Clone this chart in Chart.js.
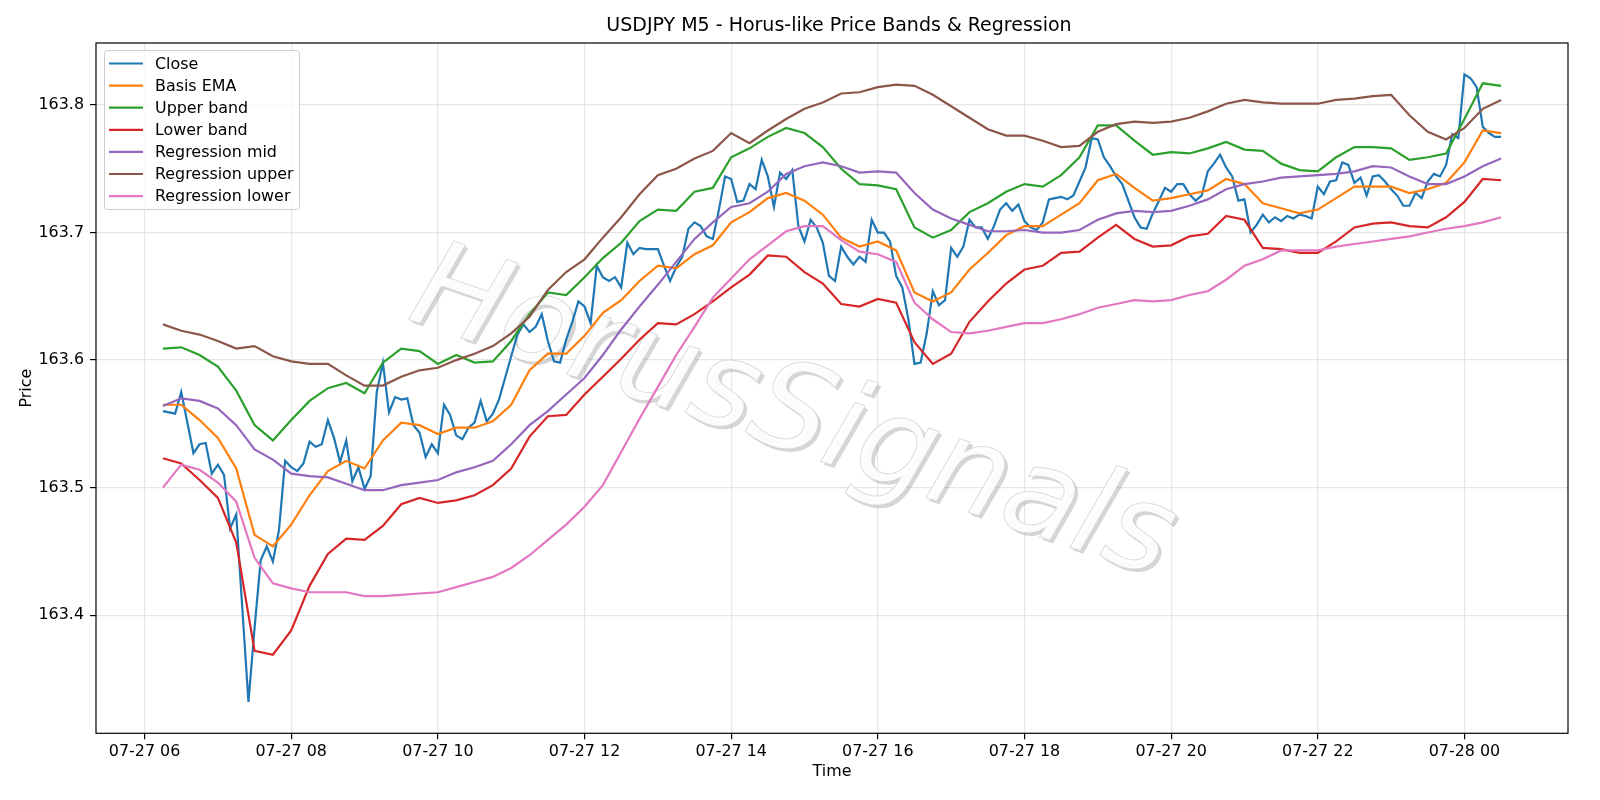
<!DOCTYPE html>
<html>
<head>
<meta charset="utf-8">
<script src="https://cdn.jsdelivr.net/npm/chart.js@4.4.1/dist/chart.umd.min.js"></script>
<style>
  html, body { margin: 0; padding: 0; background: #fff; }
  #wrap { width: 1600px; height: 800px; }
</style>
</head>
<body>
<div id="wrap"><canvas id="priceChart"></canvas></div>
<script>
// time axis is minutes since 07-27 00:00; first bar is 06:15
const startMinute = 375;
const closeStep = 5;   // M5 closes
const bandStep = 15;   // band lines read every third bar

const closePrices = [
  163.560, 163.559, 163.558, 163.575, 163.551, 163.527, 163.534, 163.535, 163.511, 163.518,
  163.510, 163.468, 163.479, 163.405, 163.332, 163.390, 163.443, 163.454, 163.442, 163.467,
  163.521, 163.516, 163.513, 163.519, 163.536, 163.532, 163.534, 163.553, 163.539, 163.520,
  163.537, 163.505, 163.516, 163.499, 163.509, 163.575, 163.598, 163.559, 163.571, 163.569,
  163.570, 163.549, 163.543, 163.524, 163.534, 163.527, 163.565, 163.557, 163.541, 163.538,
  163.547, 163.551, 163.568, 163.552, 163.558, 163.569, 163.586, 163.603, 163.620, 163.628,
  163.622, 163.626, 163.636, 163.615, 163.599, 163.598, 163.616, 163.630, 163.646, 163.642,
  163.629, 163.674, 163.665, 163.662, 163.665, 163.657, 163.692, 163.683, 163.688, 163.687,
  163.687, 163.687, 163.674, 163.662, 163.673, 163.681, 163.703, 163.708, 163.705, 163.697,
  163.695, 163.718, 163.744, 163.742, 163.724, 163.725, 163.738, 163.734, 163.757, 163.744,
  163.720, 163.747, 163.742, 163.749, 163.705, 163.693, 163.710, 163.704, 163.692, 163.666,
  163.662, 163.689, 163.681, 163.675, 163.681, 163.677, 163.710, 163.700, 163.700, 163.693,
  163.666, 163.657, 163.632, 163.597, 163.598, 163.621, 163.654, 163.643, 163.647, 163.688,
  163.681, 163.689, 163.710, 163.704, 163.704, 163.695, 163.705, 163.718, 163.723, 163.717,
  163.722, 163.709, 163.704, 163.702, 163.708, 163.726, 163.727, 163.728, 163.726, 163.729,
  163.740, 163.751, 163.774, 163.773, 163.759, 163.752, 163.744, 163.738, 163.725, 163.712,
  163.704, 163.703, 163.715, 163.725, 163.735, 163.732, 163.738, 163.738, 163.730, 163.725,
  163.729, 163.748, 163.754, 163.761, 163.751, 163.744, 163.725, 163.726, 163.700, 163.706,
  163.714, 163.708, 163.712, 163.709, 163.713, 163.711, 163.714, 163.713, 163.711, 163.736,
  163.730, 163.740, 163.741, 163.755, 163.753, 163.739, 163.743, 163.729, 163.744, 163.745,
  163.740, 163.734, 163.729, 163.721, 163.721, 163.731, 163.727, 163.740, 163.746, 163.744,
  163.753, 163.777, 163.774, 163.824, 163.821, 163.814, 163.783, 163.778, 163.775, 163.775,
];

const basisEma = [
  163.565, 163.565, 163.553, 163.539, 163.515, 163.463, 163.454, 163.471, 163.494, 163.513,
  163.521, 163.515, 163.537, 163.551, 163.549, 163.542, 163.547, 163.547, 163.552, 163.565,
  163.592, 163.605, 163.605, 163.619, 163.637, 163.647, 163.662, 163.674, 163.672, 163.683,
  163.690, 163.708, 163.716, 163.727, 163.731, 163.725, 163.714, 163.696, 163.689, 163.693,
  163.686, 163.653, 163.646, 163.653, 163.671, 163.684, 163.698, 163.705, 163.705, 163.714,
  163.723, 163.741, 163.746, 163.735, 163.725, 163.727, 163.730, 163.733, 163.742, 163.738,
  163.723, 163.719, 163.715, 163.718, 163.727, 163.736, 163.736, 163.736, 163.731, 163.734,
  163.739, 163.755, 163.780, 163.778,
];

const upperBand = [
  163.609, 163.610, 163.604, 163.595, 163.576, 163.549, 163.537, 163.553, 163.568, 163.578,
  163.582, 163.574, 163.598, 163.609, 163.607, 163.597, 163.604, 163.598, 163.599, 163.615,
  163.636, 163.653, 163.651, 163.665, 163.680, 163.692, 163.709, 163.718, 163.717, 163.732,
  163.735, 163.759, 163.766, 163.775, 163.782, 163.778, 163.767, 163.750, 163.738, 163.737,
  163.734, 163.704, 163.696, 163.702, 163.716, 163.723, 163.732, 163.738, 163.736, 163.745,
  163.759, 163.784, 163.784, 163.772, 163.761, 163.763, 163.762, 163.766, 163.771, 163.765,
  163.764, 163.754, 163.749, 163.748, 163.759, 163.767, 163.767, 163.766, 163.757, 163.759,
  163.762, 163.789, 163.817, 163.815,
];

const lowerBand = [
  163.523, 163.519, 163.506, 163.492, 163.457, 163.372, 163.369, 163.388, 163.423, 163.448,
  163.460, 163.459, 163.470, 163.487, 163.492, 163.488, 163.490, 163.494, 163.502, 163.515,
  163.540, 163.556, 163.557, 163.573, 163.587, 163.601, 163.616, 163.629, 163.628, 163.636,
  163.646, 163.657, 163.667, 163.682, 163.681, 163.669, 163.660, 163.644, 163.642, 163.648,
  163.645, 163.614, 163.597, 163.605, 163.630, 163.646, 163.660, 163.671, 163.674, 163.684,
  163.685, 163.696, 163.706, 163.695, 163.689, 163.690, 163.697, 163.699, 163.713, 163.710,
  163.688, 163.687, 163.684, 163.684, 163.693, 163.704, 163.707, 163.708, 163.705, 163.704,
  163.712, 163.724, 163.742, 163.741,
];

const regressionMid = [
  163.564, 163.570, 163.568, 163.562, 163.549, 163.530, 163.522, 163.511, 163.509, 163.508,
  163.503, 163.498, 163.498, 163.502, 163.504, 163.506, 163.512, 163.516, 163.521, 163.534,
  163.549, 163.560, 163.573, 163.586, 163.604, 163.624, 163.642, 163.659, 163.677, 163.695,
  163.708, 163.720, 163.723, 163.732, 163.746, 163.752, 163.755, 163.752, 163.747, 163.748,
  163.747, 163.731, 163.718, 163.711, 163.706, 163.701, 163.701, 163.702, 163.700, 163.700,
  163.702, 163.710, 163.715, 163.717, 163.716, 163.717, 163.721, 163.726, 163.734, 163.738,
  163.740, 163.743, 163.744, 163.745, 163.746, 163.748, 163.752, 163.751, 163.744, 163.738,
  163.738, 163.744, 163.752, 163.758,
];

const regressionUpper = [
  163.628, 163.623, 163.620, 163.615, 163.609, 163.611, 163.603, 163.599, 163.597, 163.597,
  163.588, 163.580, 163.580, 163.587, 163.592, 163.594, 163.600, 163.605, 163.611, 163.621,
  163.634, 163.655, 163.669, 163.679, 163.696, 163.712, 163.730, 163.745, 163.750, 163.758,
  163.764, 163.778, 163.770, 163.780, 163.789, 163.797, 163.802, 163.809, 163.810, 163.814,
  163.816, 163.815, 163.808, 163.799, 163.790, 163.781, 163.776, 163.776, 163.772, 163.767,
  163.768, 163.779, 163.785, 163.787, 163.786, 163.787, 163.790, 163.795, 163.801, 163.804,
  163.802, 163.801, 163.801, 163.801, 163.804, 163.805, 163.807, 163.808, 163.792, 163.779,
  163.773, 163.782, 163.797, 163.804,
];

const regressionLower = [
  163.500, 163.518, 163.514, 163.504, 163.489, 163.445, 163.425, 163.421, 163.418, 163.418,
  163.418, 163.415, 163.415, 163.416, 163.417, 163.418, 163.422, 163.426, 163.430, 163.437,
  163.447, 163.459, 163.471, 163.485, 163.502, 163.528, 163.554, 163.579, 163.604, 163.626,
  163.649, 163.664, 163.679, 163.690, 163.701, 163.705, 163.705, 163.694, 163.685, 163.683,
  163.677, 163.645, 163.632, 163.622, 163.621, 163.623, 163.626, 163.629, 163.629, 163.632,
  163.636, 163.641, 163.644, 163.647, 163.646, 163.647, 163.651, 163.654, 163.663, 163.674,
  163.679, 163.686, 163.686, 163.686, 163.689, 163.691, 163.693, 163.695, 163.697, 163.700,
  163.703, 163.705, 163.708, 163.712,
];

const xTickMinutes = [360, 480, 600, 720, 840, 960, 1080, 1200, 1320, 1440];
const xTickLabels = [
  "07-27 06", "07-27 08", "07-27 10", "07-27 12", "07-27 14",
  "07-27 16", "07-27 18", "07-27 20", "07-27 22", "07-28 00",
];
const yTickValues = [163.4, 163.5, 163.6, 163.7, 163.8];

const chartTitle = "USDJPY M5 - Horus-like Price Bands & Regression";
const watermarkText = "HorusSignals";
const FONT = "'DejaVu Sans', sans-serif";

const toPoints = (values, step) =>
  values.map((v, i) => ({ x: startMinute + i * step, y: v }));

function lineSet(label, values, step, color, order) {
  return {
    label,
    data: toPoints(values, step),
    borderColor: color,
    backgroundColor: color,
    borderWidth: 2.2,
    pointRadius: 0,
    tension: 0,
    order,
  };
}

// matplotlib style title centred over the axes
const titlePlugin = {
  id: "axesTitle",
  afterDraw(chart) {
    const { ctx, chartArea } = chart;
    ctx.save();
    ctx.font = "19px " + FONT;
    ctx.fillStyle = "#000";
    ctx.textAlign = "center";
    ctx.textBaseline = "middle";
    ctx.fillText(chartTitle, (chartArea.left + chartArea.right) / 2 + 7, 26);
    ctx.restore();
  },
};

// rotated text watermark with a soft shadow
const watermarkPlugin = {
  id: "watermark",
  beforeDatasetsDraw(chart) {
    const { ctx } = chart;
    ctx.save();
    ctx.font = "italic 122px " + FONT;
    ctx.textAlign = "center";
    ctx.textBaseline = "middle";
    const cx = 792, cy = 418, ang = (19 * Math.PI) / 180;
    ctx.save();
    ctx.translate(cx + 3, cy + 3);
    ctx.rotate(ang);
    ctx.fillStyle = "rgba(120,120,120,0.3)";
    ctx.fillText(watermarkText, 0, 0);
    ctx.restore();
    ctx.translate(cx, cy);
    ctx.rotate(ang);
    ctx.fillStyle = "rgba(255,255,255,0.95)";
    ctx.fillText(watermarkText, 0, 0);
    ctx.lineWidth = 1;
    ctx.strokeStyle = "rgba(205,205,205,0.7)";
    ctx.strokeText(watermarkText, 0, 0);
    ctx.restore();
  },
};

// axes frame (all four spines)
const framePlugin = {
  id: "frame",
  afterDatasetsDraw(chart) {
    const { ctx, chartArea: a } = chart;
    ctx.save();
    ctx.strokeStyle = "#000";
    ctx.lineWidth = 1.2;
    ctx.strokeRect(a.left, a.top, a.right - a.left, a.bottom - a.top);
    ctx.restore();
  },
};

// legend box in the upper-left corner of the axes
const legendPlugin = {
  id: "innerLegend",
  afterDatasetsDraw(chart) {
    const { ctx } = chart;
    const sets = chart.data.datasets;
    const x0 = 104.5, y0 = 50.5, w = 195, h = 159;
    ctx.save();
    ctx.beginPath();
    ctx.roundRect(x0, y0, w, h, 3);
    ctx.fillStyle = "rgba(255,255,255,0.8)";
    ctx.fill();
    ctx.strokeStyle = "#cccccc";
    ctx.lineWidth = 1;
    ctx.stroke();
    ctx.font = "15.9px " + FONT;
    ctx.textBaseline = "middle";
    ctx.textAlign = "left";
    sets.forEach((ds, i) => {
      const y = 63.5 + i * 22.1;
      ctx.strokeStyle = ds.borderColor;
      ctx.lineWidth = 2.2;
      ctx.beginPath();
      ctx.moveTo(109, y);
      ctx.lineTo(143, y);
      ctx.stroke();
      ctx.fillStyle = "#000";
      ctx.fillText(ds.label, 155, y + 1);
    });
    ctx.restore();
  },
};

const gridColor = "#e6e6e6";
const tickFont = { family: FONT, size: 15.9 };

const priceCtx = document.getElementById("priceChart").getContext("2d");
const priceChart = new Chart(priceCtx, {
  type: "line",
  data: {
    datasets: [
      lineSet("Close", closePrices, closeStep, "#1f77b4", 7),
      lineSet("Basis EMA", basisEma, bandStep, "#ff7f0e", 6),
      lineSet("Upper band", upperBand, bandStep, "#2ca02c", 5),
      lineSet("Lower band", lowerBand, bandStep, "#d62728", 4),
      lineSet("Regression mid", regressionMid, bandStep, "#9467bd", 3),
      lineSet("Regression upper", regressionUpper, bandStep, "#8c564b", 2),
      lineSet("Regression lower", regressionLower, bandStep, "#e377c2", 1),
    ],
  },
  options: {
    responsive: true,
    maintainAspectRatio: false,
    animation: false,
    devicePixelRatio: 1,
    layout: { padding: { top: 43, right: 32, bottom: 0, left: 0 } },
    plugins: {
      legend: { display: false },
      tooltip: { enabled: false },
      title: { display: false },
    },
    scales: {
      x: {
        type: "linear",
        min: 320.25,
        max: 1524.75,
        afterBuildTicks: (scale) => {
          scale.ticks = xTickMinutes.map((v) => ({ value: v }));
        },
        afterFit: (scale) => {
          scale.height = 66.7;
        },
        ticks: {
          autoSkip: false,
          maxRotation: 0,
          padding: 3,
          color: "#000",
          font: tickFont,
          callback: (value, index) => xTickLabels[index],
        },
        grid: { color: gridColor, lineWidth: 1.2, tickColor: "#000", tickLength: 6 },
        border: { display: false },
        title: {
          display: true,
          text: "Time",
          color: "#000",
          font: tickFont,
          padding: { top: 0, bottom: 19 },
        },
      },
      y: {
        type: "linear",
        min: 163.3074,
        max: 163.8486,
        afterBuildTicks: (scale) => {
          scale.ticks = yTickValues.map((v) => ({ value: v }));
        },
        afterFit: (scale) => {
          scale.width = 96;
        },
        ticks: {
          padding: 6,
          color: "#000",
          font: tickFont,
          callback: (value) => value.toFixed(1),
        },
        grid: { color: gridColor, lineWidth: 1.2, tickColor: "#000", tickLength: 6 },
        border: { display: false },
        title: {
          display: true,
          text: "Price",
          color: "#000",
          font: tickFont,
          padding: { top: 17, bottom: 0 },
        },
      },
    },
  },
  plugins: [watermarkPlugin, framePlugin, legendPlugin, titlePlugin],
});
</script>
</body>
</html>
